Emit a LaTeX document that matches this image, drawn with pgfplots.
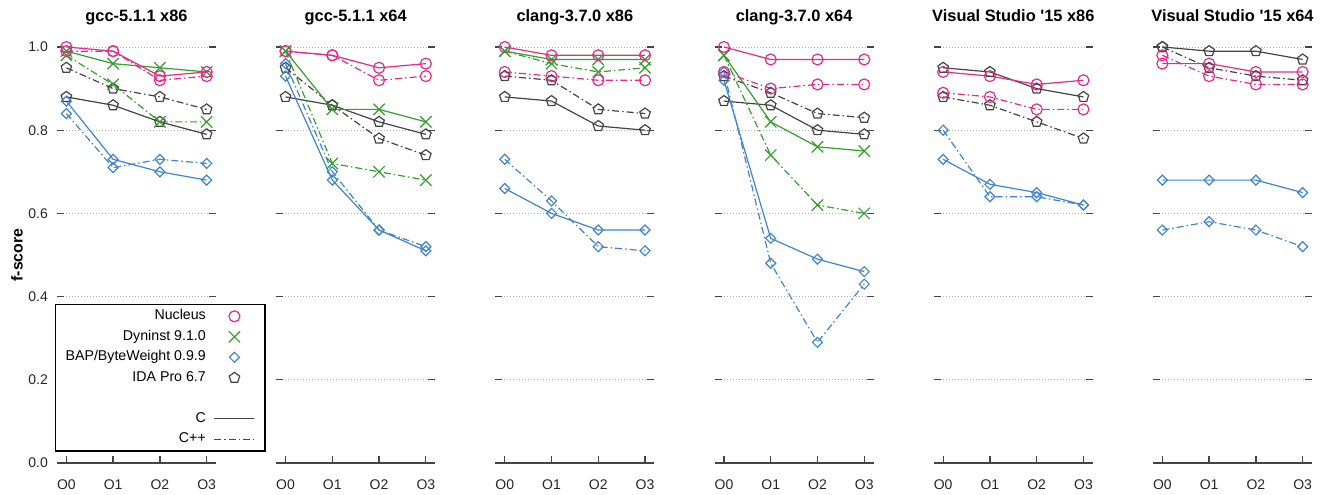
\documentclass[border=0pt]{standalone}
\usepackage{fontspec}
\setmainfont{Liberation Sans}
\usepackage{pgfplots}
\usepackage{pgfplotstable}
\pgfplotsset{compat=1.18}

\definecolor{nuc}{HTML}{E7298A}
\definecolor{dyn}{HTML}{33A02C}
\definecolor{bap}{HTML}{3F84D0}
\definecolor{ida}{HTML}{444444}
\definecolor{axgray}{HTML}{444444}

\pgfdeclareplotmark{pent}{%
  \pgfpathmoveto{\pgfpointpolar{90}{\pgfplotmarksize}}%
  \pgfpathlineto{\pgfpointpolar{162}{\pgfplotmarksize}}%
  \pgfpathlineto{\pgfpointpolar{234}{\pgfplotmarksize}}%
  \pgfpathlineto{\pgfpointpolar{306}{\pgfplotmarksize}}%
  \pgfpathlineto{\pgfpointpolar{18}{\pgfplotmarksize}}%
  \pgfpathclose\pgfusepathqstroke}
\pgfdeclareplotmark{dia}{%
  \pgfpathmoveto{\pgfpoint{0pt}{\pgfplotmarksize}}%
  \pgfpathlineto{\pgfpoint{\pgfplotmarksize}{0pt}}%
  \pgfpathlineto{\pgfpoint{0pt}{-\pgfplotmarksize}}%
  \pgfpathlineto{\pgfpoint{-\pgfplotmarksize}{0pt}}%
  \pgfpathclose\pgfusepathqstroke}

\tikzset{dashdot/.style={dash pattern=on 7pt off 3pt on 1.5pt off 3pt}}

\pgfplotsset{
  panel/.style={
    scale only axis, width=159pt, height=416pt,
    xmin=-0.2, xmax=3.2, ymin=0, ymax=1,
    clip=false,
    axis line style={draw=none},
    xtick={0,1,2,3}, xticklabels={O0,O1,O2,O3},
    ytick={0,0.2,0.4,0.6,0.8,1.0},
    tick align=inside,
    xtick pos=left, ytick pos=both,
    major tick length=7pt,
    tick style={axgray, line width=1.3pt},
    ymajorgrids, grid style={gray!60, line width=0.6pt, dash pattern=on 0.8pt off 2.2pt},
    tick label style={font=\fontsize{14}{16}\selectfont, text=black!85},
    xticklabel style={anchor=center, yshift=-22pt},
    yticklabel style={anchor=east, inner sep=0pt, xshift=-9pt},
    yticklabels={},
    title style={at={(axis description cs:0.5,1)}, anchor=base, yshift=19pt, font=\bfseries\fontsize{16.4}{19}\selectfont},
    /pgf/number format/assume math mode=true,
  },
  baseline/.style={line width=1.2pt, mark options={solid}},
  nucC/.style={baseline, nuc, solid, mark=o, mark size=5.5pt},
  nucP/.style={baseline, nuc, dashdot, mark=o, mark size=5.5pt},
  dynC/.style={baseline, dyn, solid, mark=x, mark size=8pt},
  dynP/.style={baseline, dyn, dashdot, mark=x, mark size=8pt},
  bapC/.style={baseline, bap, solid, mark=dia, mark size=5pt},
  bapP/.style={baseline, bap, dashdot, mark=dia, mark size=5pt},
  idaC/.style={baseline, ida, solid, mark=pent, mark size=5.5pt},
  idaP/.style={baseline, ida, dashdot, mark=pent, mark size=5.5pt},
  legmark/.style={legend image code/.code={\draw[##1] plot[only marks] coordinates {(20pt,0pt)};}},
  legline/.style={legend image code/.code={\draw[##1] (0pt,0pt) -- (40pt,0pt);}},
}

\newcommand{\bottomline}{\draw[axgray, line width=1.4pt] (rel axis cs:0,0) -- (rel axis cs:1,0);}
\newcommand{\plotfour}[1]{%
  \addplot[idaC] table[x=x,y=ic]{#1};
  \addplot[idaP] table[x=x,y=ip]{#1};
  \addplot[bapC] table[x=x,y=bc]{#1};
  \addplot[bapP] table[x=x,y=bp]{#1};
  \addplot[dynC] table[x=x,y=dc]{#1};
  \addplot[dynP] table[x=x,y=dp]{#1};
  \addplot[nucC] table[x=x,y=nc]{#1};
  \addplot[nucP] table[x=x,y=np]{#1};
}
\newcommand{\plotthree}[1]{%
  \addplot[idaC] table[x=x,y=ic]{#1};
  \addplot[idaP] table[x=x,y=ip]{#1};
  \addplot[bapC] table[x=x,y=bc]{#1};
  \addplot[bapP] table[x=x,y=bp]{#1};
  \addplot[nucC] table[x=x,y=nc]{#1};
  \addplot[nucP] table[x=x,y=np]{#1};
}

% gcc-5.1.1 x86
\pgfplotstableread{
x nc np dc dp bc bp ic ip
0 1.00 0.99 0.99 0.98 0.87 0.84 0.88 0.95
1 0.99 0.99 0.96 0.91 0.73 0.71 0.86 0.90
2 0.93 0.92 0.95 0.82 0.70 0.73 0.82 0.88
3 0.94 0.93 0.94 0.82 0.68 0.72 0.79 0.85
}\pA
% gcc-5.1.1 x64
\pgfplotstableread{
x nc np dc dp bc bp ic ip
0 0.99 0.99 0.99 0.99 0.93 0.96 0.88 0.95
1 0.98 0.98 0.85 0.72 0.68 0.70 0.86 0.86
2 0.95 0.92 0.85 0.70 0.56 0.56 0.82 0.78
3 0.96 0.93 0.82 0.68 0.51 0.52 0.79 0.74
}\pB
% clang-3.7.0 x86
\pgfplotstableread{
x nc np dc dp bc bp ic ip
0 1.00 0.94 0.99 0.99 0.66 0.73 0.88 0.93
1 0.98 0.93 0.97 0.96 0.60 0.63 0.87 0.92
2 0.98 0.92 0.97 0.94 0.56 0.52 0.81 0.85
3 0.98 0.92 0.97 0.95 0.56 0.51 0.80 0.84
}\pC
% clang-3.7.0 x64
\pgfplotstableread{
x nc np dc dp bc bp ic ip
0 1.00 0.94 0.98 0.98 0.92 0.94 0.87 0.93
1 0.97 0.90 0.82 0.74 0.54 0.48 0.86 0.89
2 0.97 0.91 0.76 0.62 0.49 0.29 0.80 0.84
3 0.97 0.91 0.75 0.60 0.46 0.43 0.79 0.83
}\pD
% Visual Studio '15 x86
\pgfplotstableread{
x nc np bc bp ic ip
0 0.94 0.89 0.73 0.80 0.95 0.88
1 0.93 0.88 0.67 0.64 0.94 0.86
2 0.91 0.85 0.65 0.64 0.90 0.82
3 0.92 0.85 0.62 0.62 0.88 0.78
}\pE
% Visual Studio '15 x64
\pgfplotstableread{
x nc np bc bp ic ip
0 0.96 0.98 0.68 0.56 1.00 1.00
1 0.96 0.93 0.68 0.58 0.99 0.95
2 0.94 0.91 0.68 0.56 0.99 0.93
3 0.94 0.91 0.65 0.52 0.97 0.92
}\pF

\begin{document}
\begin{tikzpicture}
\path[use as bounding box] (0,0) rectangle (1326pt,495pt);

\begin{axis}[panel, at={(57pt,32pt)}, anchor=south west,
  title={gcc-5.1.1 x86},
  yticklabels={0.0,0.2,0.4,0.6,0.8,1.0},
  ylabel={f-score},
  every axis y label/.style={at={(axis description cs:-0.252,0.5)}, rotate=90, anchor=center, font=\bfseries\fontsize{15.8}{18}\selectfont},
  legend cell align=right, legend plot pos=right,
  legend style={at={(axis description cs:-0.0126,0.382)}, anchor=north west,
    draw=black, line width=1.2pt, fill=white,
    font=\fontsize{14.2}{17}\selectfont,
    nodes={inner sep=0pt, text height=10.3pt, text depth=3pt},
    row sep=7.2pt, column sep=8pt, inner xsep=10pt, inner ysep=5pt},
  legend entries={Nucleus, Dyninst 9.1.0, BAP/ByteWeight 0.9.9, IDA Pro 6.7, \phantom{C}, C, C++},
]
\addlegendimage{legmark, nuc, line width=1.2pt, mark=o, mark size=5.5pt}
\addlegendimage{legmark, dyn, line width=1.2pt, mark=x, mark size=8pt}
\addlegendimage{legmark, bap, line width=1.2pt, mark=dia, mark size=5pt}
\addlegendimage{legmark, ida, line width=1.2pt, mark=pent, mark size=5.5pt}
\addlegendimage{empty legend}
\addlegendimage{legline, ida, line width=1.2pt, solid}
\addlegendimage{legline, ida, line width=1.2pt, dashdot}
\bottomline
\plotfour{\pA}
\end{axis}

\begin{axis}[panel, at={(276.2pt,32pt)}, anchor=south west, title={gcc-5.1.1 x64}]
\bottomline
\plotfour{\pB}
\end{axis}

\begin{axis}[panel, at={(495.4pt,32pt)}, anchor=south west, title={clang-3.7.0 x86}]
\bottomline
\plotfour{\pC}
\end{axis}

\begin{axis}[panel, at={(714.6pt,32pt)}, anchor=south west, title={clang-3.7.0 x64}]
\bottomline
\plotfour{\pD}
\end{axis}

\begin{axis}[panel, at={(933.8pt,32pt)}, anchor=south west, title={Visual Studio \textquotesingle15 x86}]
\bottomline
\plotthree{\pE}
\end{axis}

\begin{axis}[panel, at={(1153pt,32pt)}, anchor=south west, title={Visual Studio \textquotesingle15 x64}]
\bottomline
\plotthree{\pF}
\end{axis}
\end{tikzpicture}
\end{document}
